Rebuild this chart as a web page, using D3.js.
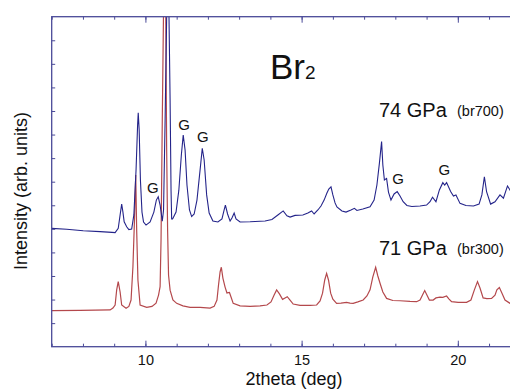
<!DOCTYPE html>
<html>
<head>
<meta charset="utf-8">
<script src="https://cdn.jsdelivr.net/npm/d3@7"></script>
<style>
body{margin:0;background:#fff;}
text{font-family:'Liberation Sans',Arial,Helvetica,sans-serif;fill:#111;}
</style>
</head>
<body>
<script>
const width=510;
const height=390;
const margin={top:16.7,left:51.7};
const plotW=15*31.24;
const plotH=330;

// 74 GPa (br700), [2theta, intensity]
const blue=[[7.00,5.02],[7.48,4.98],[8.01,4.92],[8.55,4.88],[8.93,4.85],[9.03,4.84],[9.13,5.02],[9.19,5.59],[9.24,6.05],[9.28,5.71],[9.32,5.30],[9.40,5.09],[9.47,4.97],[9.56,4.99],[9.63,5.59],[9.70,7.50],[9.75,9.41],[9.77,9.92],[9.80,9.19],[9.84,7.07],[9.89,5.71],[9.94,5.29],[10.02,5.16],[10.15,5.29],[10.27,5.71],[10.35,6.22],[10.41,6.36],[10.47,6.01],[10.54,5.33],[10.58,5.80],[10.63,9.61],[10.68,13.99],[10.716,17.25],[10.755,13.99],[10.79,10.46],[10.82,6.64],[10.84,5.42],[10.87,5.42],[10.98,5.71],[11.07,6.64],[11.15,8.13],[11.21,8.98],[11.27,8.34],[11.33,6.86],[11.41,5.80],[11.48,5.52],[11.56,5.63],[11.65,6.22],[11.75,7.50],[11.82,8.42],[11.88,7.92],[11.96,6.44],[12.04,5.67],[12.16,5.33],[12.32,5.29],[12.45,5.42],[12.52,5.80],[12.56,6.01],[12.63,5.63],[12.71,5.33],[12.77,5.46],[12.84,5.67],[12.90,5.42],[13.03,5.29],[13.35,5.30],[13.83,5.33],[14.05,5.40],[14.24,5.59],[14.41,5.76],[14.53,5.55],[14.63,5.50],[14.79,5.57],[15.04,5.59],[15.20,5.67],[15.32,5.76],[15.40,5.63],[15.52,5.80],[15.62,5.97],[15.72,6.22],[15.81,6.52],[15.87,6.69],[15.94,6.78],[16.00,6.44],[16.07,6.10],[16.13,5.93],[16.29,5.76],[16.42,5.71],[16.58,5.80],[16.69,5.87],[16.77,5.78],[16.96,5.84],[17.19,5.94],[17.32,6.22],[17.41,6.86],[17.49,7.79],[17.56,8.70],[17.60,7.71],[17.65,7.07],[17.72,7.14],[17.78,6.56],[17.86,6.22],[17.96,6.48],[18.06,6.58],[18.15,6.39],[18.25,6.15],[18.37,5.99],[18.53,5.95],[18.79,5.97],[19.00,6.01],[19.11,6.15],[19.19,6.34],[19.30,6.15],[19.41,6.65],[19.52,6.96],[19.58,6.86],[19.64,6.96],[19.77,6.58],[19.86,6.39],[19.94,6.44],[20.07,6.08],[20.26,5.99],[20.50,5.97],[20.68,6.05],[20.77,6.44],[20.85,7.21],[20.92,6.58],[21.05,6.05],[21.19,6.15],[21.35,6.44],[21.46,6.30],[21.59,6.82],[21.67,6.65],[21.80,6.31],[21.99,6.10]];

// 71 GPa (br300)
const red=[[7.00,1.53],[7.91,1.54],[8.87,1.56],[8.96,1.64],[9.03,1.77],[9.08,2.41],[9.13,2.76],[9.19,2.32],[9.24,1.77],[9.38,1.63],[9.47,1.71],[9.54,1.98],[9.60,3.39],[9.65,5.38],[9.69,7.28],[9.72,4.95],[9.76,2.83],[9.83,1.77],[10.04,1.67],[10.21,1.71],[10.34,1.85],[10.42,2.19],[10.47,2.55],[10.50,4.53],[10.54,9.62],[10.58,14.29],[10.61,17.25],[10.65,14.29],[10.68,8.35],[10.71,4.95],[10.74,3.04],[10.79,2.40],[10.88,1.98],[11.00,1.84],[11.20,1.73],[11.43,1.67],[11.75,1.67],[12.07,1.64],[12.20,1.71],[12.29,1.98],[12.34,2.62],[12.39,3.17],[12.43,3.37],[12.48,2.91],[12.55,2.53],[12.61,2.28],[12.69,2.30],[12.74,2.11],[12.81,1.84],[13.03,1.73],[13.35,1.71],[13.67,1.73],[13.89,1.77],[14.02,1.90],[14.12,2.19],[14.20,2.41],[14.29,2.24],[14.39,2.01],[14.47,2.07],[14.54,2.12],[14.63,1.98],[14.73,1.81],[14.95,1.75],[15.27,1.75],[15.48,1.77],[15.59,1.94],[15.67,2.27],[15.74,2.83],[15.80,3.11],[15.86,2.83],[15.93,2.27],[16.00,2.02],[16.12,1.84],[16.26,1.85],[16.44,1.88],[16.55,1.85],[16.65,1.84],[16.80,1.90],[16.97,1.98],[17.09,2.15],[17.19,2.41],[17.28,2.96],[17.37,3.37],[17.44,3.00],[17.51,2.69],[17.60,2.32],[17.72,2.05],[17.92,1.96],[18.15,1.95],[18.47,1.92],[18.68,1.91],[18.79,1.98],[18.87,2.19],[18.94,2.38],[19.01,2.19],[19.09,1.98],[19.21,1.98],[19.30,2.07],[19.43,2.10],[19.52,2.09],[19.64,2.15],[19.72,2.02],[19.80,1.91],[20.01,1.88],[20.28,1.88],[20.42,1.98],[20.53,2.41],[20.63,2.76],[20.71,2.49],[20.81,2.07],[20.93,2.04],[21.08,2.05],[21.19,2.19],[21.25,2.41],[21.33,2.51],[21.41,2.28],[21.51,1.98],[21.67,1.84],[21.99,1.77]];

const xMajor=[10,15,20];
const xMinor=d3.range(7,23);
const yTicks=d3.range(1,14);
// "G" marks, placed at [2theta, intensity]
const gLabels=[[10.24,6.51],[11.235,9.19],[11.84,8.70],[18.085,6.90],[19.57,7.28]];

const axisColor='#4a4a98';

const svg=d3.select('body').append('svg').attr('width',width).attr('height',height);
svg.append('rect').attr('width',width).attr('height',height).attr('fill','#fff');

const x=d3.scaleLinear().domain([7,22]).range([margin.left,margin.left+plotW]);
const y=d3.scaleLinear().domain([0,14]).range([margin.top+plotH,margin.top]);

svg.append('clipPath').attr('id','clip').append('rect')
    .attr('x',margin.left).attr('y',margin.top).attr('width',plotW).attr('height',plotH);

const line=d3.line().x(d=>x(d[0])).y(d=>y(d[1]));
const plot=svg.append('g').attr('clip-path','url(#clip)');
plot.append('path').datum(red).attr('d',line).attr('fill','none').attr('stroke','#b4484c').attr('stroke-width',1.2);
plot.append('path').datum(blue).attr('d',line).attr('fill','none').attr('stroke','#24248a').attr('stroke-width',1.1);

// axes, ticks pointing inward
function styleAxis(g){
    g.select('.domain').remove();
    g.selectAll('line').attr('stroke',axisColor).attr('stroke-width',1);
    g.selectAll('text').style('font-size','14.5px').attr('fill','#111');
}
svg.append('g').attr('transform',`translate(0,${y(0)})`)
    .call(d3.axisBottom(x).tickValues(xMinor).tickSize(-3).tickFormat(''))
    .call(styleAxis);
svg.append('g').attr('transform',`translate(0,${y(0)})`)
    .call(d3.axisBottom(x).tickValues(xMajor).tickSize(-6).tickPadding(8).tickFormat(d3.format('d')))
    .call(styleAxis);
svg.append('g').attr('transform',`translate(0,${y(14)})`)
    .call(d3.axisTop(x).tickValues(xMinor).tickSize(-3).tickFormat(''))
    .call(styleAxis);
svg.append('g').attr('transform',`translate(0,${y(14)})`)
    .call(d3.axisTop(x).tickValues(xMajor).tickSize(-6).tickFormat(''))
    .call(styleAxis);
svg.append('g').attr('transform',`translate(${x(7)},0)`)
    .call(d3.axisLeft(y).tickValues(yTicks).tickSize(-3.5).tickFormat(''))
    .call(styleAxis);

svg.append('rect').attr('x',margin.left).attr('y',margin.top).attr('width',plotW).attr('height',plotH)
    .attr('fill','none').attr('stroke',axisColor).attr('stroke-width',1.3);

// labels
svg.selectAll('.glab').data(gLabels).enter().append('text').attr('class','glab')
    .attr('x',d=>x(d[0])).attr('y',d=>y(d[1])).attr('text-anchor','middle')
    .style('font-size','15px').text('G');

const title=svg.append('text').attr('x',270).attr('y',79).style('font-size','35px');
title.append('tspan').text('Br');
title.append('tspan').style('font-size','19px').text('2');

svg.append('text').attr('x',379).attr('y',116.5).style('font-size','20px').text('74 GPa');
svg.append('text').attr('x',457).attr('y',115.5).style('font-size','14.5px').text('(br700)');
svg.append('text').attr('x',379).attr('y',255).style('font-size','20px').text('71 GPa');
svg.append('text').attr('x',457).attr('y',254).style('font-size','14.5px').text('(br300)');

svg.append('text').attr('x',294).attr('y',385).attr('text-anchor','middle').style('font-size','18px').text('2theta (deg)');
svg.append('text').attr('transform','translate(27,191) rotate(-90)').attr('text-anchor','middle')
    .style('font-size','18px').text('Intensity (arb. units)');
</script>
</body>
</html>
